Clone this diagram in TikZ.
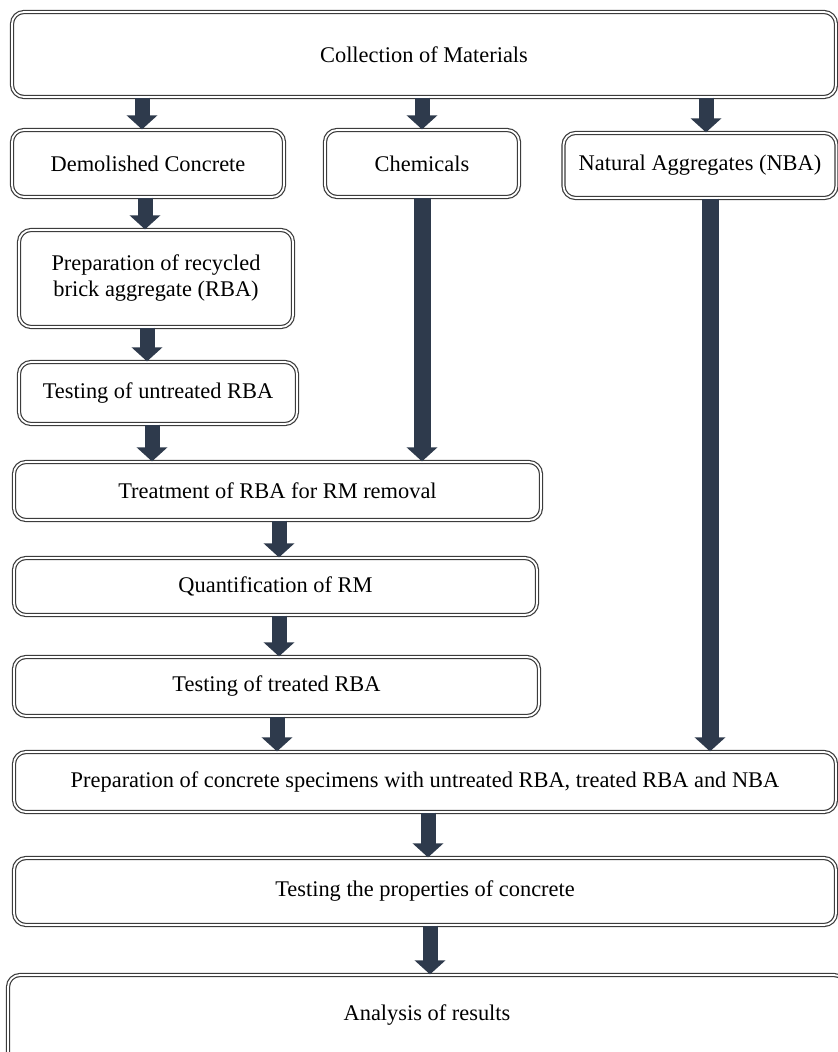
\documentclass[tikz,border=0pt]{standalone}
\usepackage{fontspec}
\setmainfont{Liberation Serif}
\usetikzlibrary{arrows.meta, positioning}
\definecolor{arrowgray}{HTML}{2E3A4C}
\definecolor{boxline}{HTML}{3C3C3C}

\begin{document}
\begin{tikzpicture}[x=0.5pt, y=-0.5pt, font=\fontsize{11.2}{13}\selectfont]
    % Define styles
    \tikzset{
        box/.style={rectangle, draw=boxline, double=white, double distance=0.9pt, line width=0.6pt,
            rounded corners=6pt, align=center, inner sep=2pt},
        flow/.style={draw=arrowgray, line width=7.5pt, -{Triangle[width=15pt, length=7pt]}}
    }
    \useasboundingbox (0,0) rectangle (838,1052);
    \clip (0,0) rectangle (838,1052);

    % Top row
    \node[box, minimum width=412pt, minimum height=42.5pt] (coll) at (424,54.5) {Collection of Materials};
    \node[box, minimum width=136pt, minimum height=33.5pt] (demo) at (148,163.5) {Demolished Concrete};
    \node[box, minimum width=97pt, minimum height=33.5pt] (chem) at (422,163.5) {Chemicals};
    \node[box, minimum width=136.5pt, minimum height=32.5pt] (nba) at (700,165.5) {Natural Aggregates (NBA)};

    % Left column
    \node[box, minimum width=137pt, minimum height=48.5pt] (prep) at (156,278.5) {Preparation of recycled\\brick aggregate (RBA)};
    \node[box, minimum width=139pt, minimum height=31pt] (untr) at (158,393) {Testing of untreated RBA};
    \node[box, minimum width=263.5pt, minimum height=29pt] (treat) at (277.5,491) {Treatment of RBA for RM removal};
    \node[box, minimum width=261.5pt, minimum height=28.5pt] (quant) at (275.5,586.5) {Quantification of RM};
    \node[box, minimum width=262.5pt, minimum height=29.5pt] (tested) at (276.5,686.5) {Testing of treated RBA};

    % Bottom rows
    \node[box, minimum width=411pt, minimum height=30pt] (spec) at (425,782) {Preparation of concrete specimens with untreated RBA, treated RBA and NBA};
    \node[box, minimum width=411pt, minimum height=33.5pt] (props) at (425,891.5) {Testing the properties of concrete};
    \node[box, minimum width=419pt, minimum height=45pt] (anal) at (427,1020) {\raisebox{1.5ex}{Analysis of results}};

    % Connections
    \draw[flow] ([xshift=-3pt]coll.south -| demo.north) -- ([xshift=-3pt]demo.north);
    \draw[flow] (coll.south -| chem.north) -- (chem.north);
    \draw[flow] ([xshift=3pt]coll.south -| nba.north) -- ([xshift=3pt]nba.north);
    \draw[flow] ([xshift=-1.5pt]demo.south) -- ([xshift=-1.5pt]demo.south |- prep.north);
    \draw[flow] ([xshift=-4.5pt]prep.south) -- ([xshift=-4.5pt]prep.south |- untr.north);
    \draw[flow] ([xshift=-3pt]untr.south) -- ([xshift=-3pt]untr.south |- treat.north);
    \draw[flow, line width=8.5pt] (chem.south) -- (chem.south |- treat.north);
    \draw[flow, line width=8.5pt] ([xshift=5pt]nba.south) -- ([xshift=5pt]nba.south |- spec.north);
    \draw[flow] ([xshift=0.75pt]treat.south) -- ([xshift=0.75pt]treat.south |- quant.north);
    \draw[flow] ([xshift=1.75pt]quant.south) -- ([xshift=1.75pt]quant.south |- tested.north);
    \draw[flow] ([xshift=0.25pt]tested.south) -- ([xshift=0.25pt]tested.south |- spec.north);
    \draw[flow] ([xshift=1.5pt]spec.south) -- ([xshift=1.5pt]spec.south |- props.north);
    \draw[flow] ([xshift=2.5pt]props.south) -- ([xshift=2.5pt]props.south |- anal.north);
\end{tikzpicture}
\end{document}
